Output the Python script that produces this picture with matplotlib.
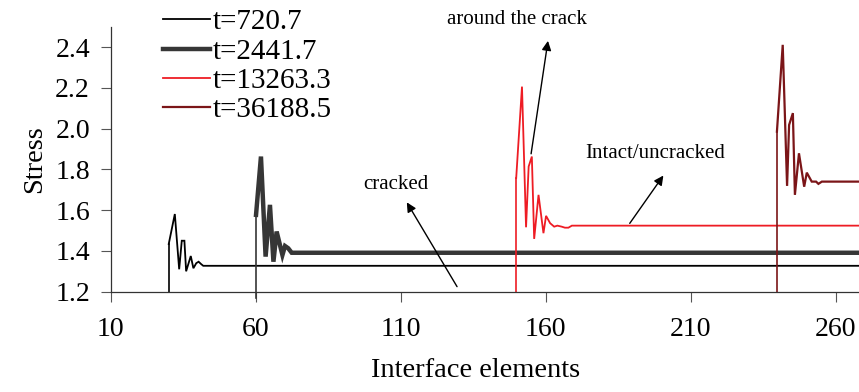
import matplotlib.pyplot as plt
import numpy as np

# stress profiles along the interface at four times
EL_END = 268

t1_x = [30, 32.1, 33.6, 34.5, 35.4, 36.0, 37.6, 38.5, 39.5, 40.3, 41.2, 41.9, EL_END]
t1_y = [1.434, 1.581, 1.31, 1.45, 1.45, 1.30, 1.375, 1.315, 1.34, 1.347, 1.335, 1.327, 1.327]

t2_x = [60.1, 61.8, 63.4, 64.9, 66.1, 67.2, 69.2, 70.1, 71.2, 72.4, EL_END]
t2_y = [1.577, 1.863, 1.372, 1.626, 1.347, 1.495, 1.38, 1.424, 1.413, 1.391, 1.391]

t3_x = [149.8, 151.8, 153.2, 154.1, 155.2, 156.0, 157.5, 159.2, 160.1, 161.5, 162.9,
        164.0, 165.5, 166.6, 167.8, 169.0, EL_END]
t3_y = [1.757, 2.206, 1.516, 1.814, 1.863, 1.459, 1.675, 1.487, 1.572, 1.536, 1.519,
        1.524, 1.519, 1.514, 1.514, 1.524, 1.524]

t4_x = [239.7, 241.7, 243.2, 243.9, 245.2, 245.9, 247.3, 249.1, 250.0, 251.7, 253.2,
        254.0, 255.2, EL_END]
t4_y = [1.985, 2.411, 1.719, 2.018, 2.076, 1.675, 1.879, 1.715, 1.784, 1.740, 1.740,
        1.729, 1.740, 1.740]

# (label, x, y, colour, width, lowest point of the initial jump)
SERIES = [
    ("t=720.7", t1_x, t1_y, "#000000", 1.3, 1.2),
    ("t=2441.7", t2_x, t2_y, "#363636", 3.2, 1.17),
    ("t=13263.3", t3_x, t3_y, "#ee1c24", 1.3, 1.2),
    ("t=36188.5", t4_x, t4_y, "#7b1518", 1.6, 1.2),
]

X_TICKS = [10, 60, 110, 160, 210, 260]
Y_TICKS = [1.2, 1.4, 1.6, 1.8, 2.0, 2.2, 2.4]


def main() -> None:
    plt.rcParams.update(
        {
            "font.family": ["Liberation Serif", "DejaVu Serif"],
            "font.size": 20,
        }
    )
    fig = plt.figure(figsize=(8.59, 3.92), dpi=100)
    ax = fig.add_axes([0.1289, 0.2559, 0.8711, 0.676])

    handles = []
    for label, xs, ys, color, lw, y_floor in SERIES:
        # jump from the floor up to the first value
        ax.plot([xs[0], xs[0]], [y_floor, ys[0]], color=color, linewidth=1.2,
                clip_on=False)
        (line,) = ax.plot(xs, ys, color=color, linewidth=lw, label=label,
                          solid_joinstyle="miter")
        handles.append(line)

    ax.set_xlim(10, EL_END)
    ax.set_ylim(1.2, 2.5)
    ax.set_xticks(X_TICKS)
    ax.set_yticks(Y_TICKS)
    ax.set_yticklabels([f"{v:.1f}" for v in Y_TICKS])
    ax.tick_params(direction="out", length=7, width=0.8, color="#555555",
                   labelsize=20)
    ax.tick_params(axis="x", pad=11)
    ax.tick_params(axis="y", pad=8)
    for side in ("top", "right"):
        ax.spines[side].set_visible(False)
    for side in ("left", "bottom"):
        ax.spines[side].set_color("#333333")
        ax.spines[side].set_linewidth(0.9)

    ax.set_xlabel("Interface elements", fontsize=20.5, labelpad=3)
    ax.xaxis.set_label_coords(0.487, -0.25, transform=ax.transAxes)
    ax.set_ylabel("Stress", fontsize=20.5, labelpad=6)

    arrow = dict(arrowstyle="-|>", color="black", lw=1.0, mutation_scale=14)
    ax.annotate("", xy=(111.6, 1.65), xytext=(129.9, 1.213), arrowprops=arrow)
    ax.text(108.4, 1.724, "cracked", fontsize=15, ha="center", va="center")

    ax.annotate("", xy=(160.9, 2.444), xytext=(154.8, 1.863), arrowprops=arrow,
                annotation_clip=False)
    ax.text(150.1, 2.535, "around the crack", fontsize=15, ha="center", va="center",
            clip_on=False)

    ax.annotate("", xy=(201.1, 1.781), xytext=(188.4, 1.524), arrowprops=arrow)
    ax.text(197.7, 1.876, "Intact/uncracked", fontsize=15, ha="center", va="center")

    fig.legend(
        handles=handles,
        loc="upper left",
        bbox_to_anchor=(163 / 859, 1.0 - 9 / 392),
        frameon=False,
        fontsize=21,
        handlelength=1.6,
        handletextpad=0.1,
        labelspacing=0.1,
        borderpad=0.0,
        borderaxespad=0.0,
    )

    fig.savefig("out.png", dpi=100)
    plt.close(fig)


if __name__ == "__main__":
    main()
